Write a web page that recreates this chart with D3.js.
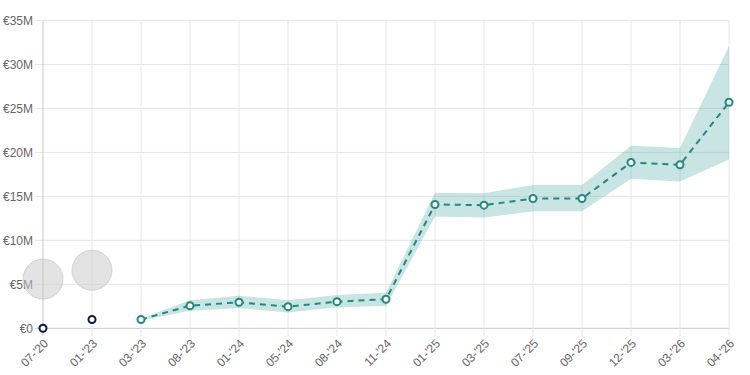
<!DOCTYPE html>
<html><head><meta charset="utf-8">
<script src="https://cdn.jsdelivr.net/npm/d3@7"></script>
<style>body{margin:0;background:#fff}svg{display:block}</style>
</head><body>
<svg id="c" width="750" height="375"></svg>
<script>
const categories = ["07-'20","01-'23","03-'23","08-'23","01-'24","05-'24","08-'24","11-'24","01-'25","03-'25","07-'25","09-'25","12-'25","03-'26","04-'26"];
// historical (dark) points
const histCats = ["07-'20","01-'23"];
const histValues = [0, 1.0];
// grey bubbles
const bubbleCats = ["07-'20","01-'23"];
const bubbleValues = [5.6, 6.6];
const bubbleSizes = [20, 20];
// projected series (millions €)
const projCats = ["03-'23","08-'23","01-'24","05-'24","08-'24","11-'24","01-'25","03-'25","07-'25","09-'25","12-'25","03-'26","04-'26"];
const projValues = [1.0, 2.57, 2.96, 2.46, 3.03, 3.3, 14.08, 14.0, 14.76, 14.76, 18.86, 18.6, 25.7];
const projLow  = [0.9, 2.0, 2.3, 1.8, 2.4, 2.55, 12.7, 12.6, 13.3, 13.3, 17.0, 16.7, 19.2];
const projHigh = [1.1, 3.2, 3.7, 3.2, 3.8, 4.05, 15.4, 15.35, 16.3, 16.3, 20.75, 20.5, 32.1];
const yTicks = [0,5,10,15,20,25,30,35];
const yTickLabels = ["€0","€5M","€10M","€15M","€20M","€25M","€30M","€35M"];

const svg = d3.select("#c");
const L=43, R=729, T=20.5, B=328.3;
const x = d3.scalePoint().domain(categories).range([L,R]);
const y = d3.scaleLinear().domain([0,35]).range([B,T]);
const font = "'Liberation Sans', Arial, sans-serif";

// grid
const g = svg.append("g");
g.selectAll(".hg").data(yTicks).join("line")
  .attr("x1",L-8).attr("x2",R).attr("y1",d=>y(d)).attr("y2",d=>y(d))
  .attr("stroke",d=>d===0?"#c8c8c8":"#e6e6e6").attr("stroke-width",1);
g.selectAll(".vg").data(categories).join("line")
  .attr("x1",d=>x(d)).attr("x2",d=>x(d)).attr("y1",T).attr("y2",B+8)
  .attr("stroke",(d,i)=>i===0?"#c8c8c8":"#e6e6e6").attr("stroke-width",1);

// y labels
svg.append("g").selectAll("text").data(yTicks).join("text")
  .attr("x",L-10).attr("y",d=>y(d)).attr("dy","0.35em").attr("text-anchor","end")
  .attr("font-family",font).attr("font-size",12).attr("fill","#666")
  .text((d,i)=>yTickLabels[i]);

// x labels
svg.append("g").selectAll("text").data(categories).join("text")
  .attr("transform",d=>`translate(${x(d)+3},${B+13}) rotate(-45)`)
  .attr("text-anchor","end").attr("dy","0.35em")
  .attr("font-family",font).attr("font-size",12).attr("fill","#666")
  .text(d=>d);

// bubbles
svg.append("g").selectAll("circle").data(bubbleCats).join("circle")
  .attr("cx",d=>x(d)).attr("cy",(d,i)=>y(bubbleValues[i])).attr("r",(d,i)=>bubbleSizes[i])
  .attr("fill","rgba(200,200,200,0.5)").attr("stroke","rgba(190,190,190,0.6)").attr("stroke-width",1);

// band
const idx = projCats.map((c,i)=>i);
svg.append("path").datum(idx)
  .attr("d",d3.area().x(i=>x(projCats[i])).y0(i=>y(projLow[i])).y1(i=>y(projHigh[i])))
  .attr("fill","rgba(42,150,148,0.26)");

// dashed line
svg.append("path").datum(idx)
  .attr("d",d3.line().x(i=>x(projCats[i])).y(i=>y(projValues[i])))
  .attr("fill","none").attr("stroke","#22897f").attr("stroke-width",2).attr("stroke-dasharray","6,5");

// projected points
svg.append("g").selectAll("circle").data(idx).join("circle")
  .attr("cx",i=>x(projCats[i])).attr("cy",i=>y(projValues[i])).attr("r",3.5)
  .attr("fill","#fff").attr("stroke","#22897f").attr("stroke-width",2);

// historical points
svg.append("g").selectAll("circle").data(histCats).join("circle")
  .attr("cx",d=>x(d)).attr("cy",(d,i)=>y(histValues[i])).attr("r",3.5)
  .attr("fill","#fff").attr("stroke","#0d1a3a").attr("stroke-width",2);
</script>
</body></html>
